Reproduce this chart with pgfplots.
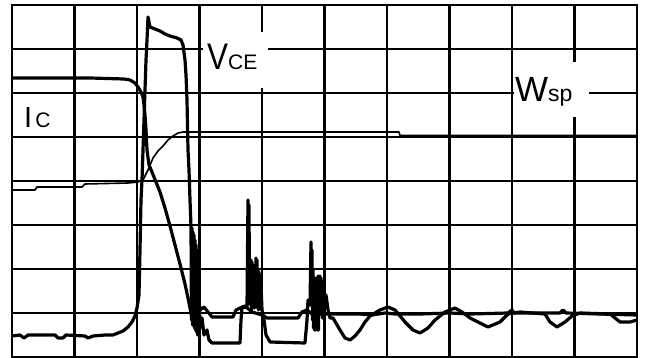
\documentclass[border=0pt]{standalone}
\usepackage{pgfplots}
\pgfplotsset{compat=1.18}
\usepackage{fontspec}
\setmainfont{Liberation Sans}
\begin{document}
\begin{tikzpicture}
\useasboundingbox (0,0) rectangle (647pt,358pt);
\begin{axis}[
  at={(12pt,1pt)}, anchor=south west,
  scale only axis, width=625pt, height=352pt,
  xmin=12, xmax=637, ymin=5, ymax=357, y dir=reverse,
  xtick={12,74.5,...,637}, ytick={5,49,...,357},
  xticklabels={}, yticklabels={},
  major tick length=0pt,
  grid=major,
  grid style={black, line width=2.6pt},
  axis line style={black, line width=2.8pt},
  clip=true,
]
% V_CE
\addplot[black, line width=3.2pt, line join=round] coordinates {
(12,336) (20,335) (24,338) (28,335) (55,335) (58,338) (63,338) (66,335) (85,336) (88,338) (93,336) (105,335) (113,335)
(118,333) (123,331) (128,327) (132,322) (135,316) (137,308) (139,295) (140,250) (141,200) (142,180) (144,120) (145,90)
(146,60) (147,40) (148,17) (150,27) (155,29) (160,31) (165,34) (170,36) (177,38) (181,40) (183,45) (185,60) (186,75)
(187,100) (188,150) (189,170) (190,200) (191,227) (191.5,320) (192,228) (192.5,325) (193,232) (193.5,325) (194,235)
(194.5,328) (195,240) (195.5,330) (196,245) (196.5,332) (197,250) (197.5,335) (198,260) (198.5,330) (199,290)
(200,328) (202,318) (204,335) (207,330) (209,340) (212,343) (240,343) (241,320) (242,307) (245,306) (247,307)
(248,200) (248.5,300) (249,205) (249.5,300) (250,260) (250.5,305) (251,260) (251.5,310) (252,262) (252.5,308)
(253,265) (253.5,305) (254,268) (254.5,308) (255,270) (255.5,305) (256,258) (256.5,300) (257,260) (257.5,308)
(258,270) (258.5,310) (259,272) (259.5,308) (260,275) (260.5,305) (261,285) (262,310) (264,320) (266,335) (270,342)
(305,343) (307,320) (308,300) (309,305) (309.5,300) (310,305) (311,242) (311.5,300) (312,250) (312.5,320) (313,270)
(313.5,328) (314,280) (314.5,330) (315,278) (315.5,330) (316,280) (316.5,315) (317,278) (317.5,330) (318,276)
(318.5,330) (319,280) (319.5,310) (320,276) (320.5,312) (321,278) (321.5,310) (322,285) (322.5,318) (323,282)
(323.5,310) (324,285) (325,305) (326,295) (328,310) (330,318) (333,318) (340,330) (345,338) (350,340) (355,336)
(360,330) (365,322) (370,316) (380,310) (388,307) (395,310) (400,316) (405,322) (413,330) (420,333) (428,328)
(435,320) (445,312) (455,308) (462,312) (470,318) (480,323) (488,327) (500,322) (508,314) (520,312) (545,314)
(550,322) (557,327) (565,322) (572,316) (580,313) (610,314) (615,318) (620,322) (630,322) (637,320)
};
% I_C
\addplot[black, line width=3.2pt, line join=round] coordinates {
(12,78) (40,78) (90,78) (124,79) (130,80) (135,83) (138,87) (141,92) (143,97) (144,105) (145,115) (146,130) (147,150)
(149,165) (152,172) (156,182) (160,192) (165,208) (170,226) (175,245) (180,264) (185,284) (188,298) (190,308) (192,318)
(194,325) (196,322) (198,316) (200,310) (204,307) (208,312) (212,317) (233,317) (236,310) (240,308) (246,307) (252,312)
(262,315) (267,318) (298,318) (302,312) (307,310) (312,314) (330,314) (360,314) (372,315) (385,313) (395,314) (420,314)
(450,313) (470,314) (508,313) (512,310) (514,313) (560,313) (563,310) (566,313) (600,314) (637,315)
};
% W_SP
\addplot[black, line width=1.6pt, line join=round] coordinates {
(12,190) (35,190) (37,187) (82,187) (85,184) (128,183) (138,182) (143,180) (148,170) (153,158) (158,151) (163,146)
(168,140) (173,136) (178,133) (183,132) (399,132) (400,135.5) (637,135.5)
};
% label backgrounds
\fill[white] (axis cs:203,32) rectangle (axis cs:268,88);
\fill[white] (axis cs:514,62) rectangle (axis cs:589,117);
\fill[white] (axis cs:25,97) rectangle (axis cs:62,133);
\node[anchor=base west, inner sep=0pt] at (axis cs:207,70)
  {\scalebox{0.85}[1]{\fontsize{37}{37}\selectfont V}\fontsize{21}{21}\selectfont CE};
\node[anchor=base west, inner sep=0pt] at (axis cs:515,102)
  {\fontsize{35}{35}\selectfont W\fontsize{23}{23}\selectfont sp};
\node[anchor=base west, inner sep=0pt] at (axis cs:24,128)
  {\fontsize{29}{29}\selectfont I\kern3pt\fontsize{21}{21}\selectfont C};
\end{axis}
\end{tikzpicture}
\end{document}
